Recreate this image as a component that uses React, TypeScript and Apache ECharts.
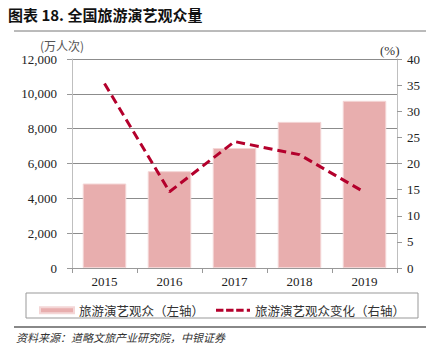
import React, { useEffect, useRef } from "react";
import * as echarts from "echarts";

const years = ["2015", "2016", "2017", "2018", "2019"];
const audience = [4850, 5560, 6890, 8390, 9600];
const growth = [35.3, 14.6, 24.2, 21.7, 14.5];

const serif = "'Liberation Serif', 'Times New Roman', serif";
const cjk = "'Noto Sans CJK SC', sans-serif";

export default function App() {
  const ref = useRef<HTMLDivElement>(null);
  useEffect(() => {
    document.body.style.margin = "0";
    const chart = echarts.init(ref.current!, null, { renderer: "svg" });
    chart.setOption({
      animation: false,
      backgroundColor: "#fff",
      grid: { left: 72, right: 39, top: 59, bottom: 87 },
      legend: {
        left: 34,
        top: 299,
        itemWidth: 34,
        itemHeight: 6,
        itemGap: 12,
        textStyle: { fontFamily: cjk, fontSize: 12.5, color: "#333" },
        data: [
          { name: "旅游演艺观众（左轴）", icon: "rect" },
          {
            name: "旅游演艺观众变化（右轴）",
            icon: "path://M0,0h7v3h-7z M9.5,0h7v3h-7z M19,0h7v3h-7z M29,0h3v3h-3z",
          },
        ],
      },
      xAxis: {
        type: "category",
        data: years,
        axisLine: { lineStyle: { color: "#999" } },
        axisTick: { show: true, length: 5, lineStyle: { color: "#999" } },
        axisLabel: { fontFamily: serif, fontSize: 13, color: "#222", margin: 7 },
      },
      yAxis: [
        {
          type: "value",
          min: 0,
          max: 12000,
          interval: 2000,
          axisLine: { show: true, lineStyle: { color: "#BFBFBF" } },
          axisTick: { show: true, length: 5, lineStyle: { color: "#999" } },
          splitLine: { lineStyle: { color: "#8C8C8C", width: 1 } },
          axisLabel: {
            fontFamily: serif,
            fontSize: 13,
            color: "#222",
            margin: 15,
            formatter: (v: number) => v.toLocaleString("en-US"),
          },
        },
        {
          type: "value",
          min: 0,
          max: 40,
          interval: 5,
          axisLine: { show: true, lineStyle: { color: "#BFBFBF" } },
          axisTick: { show: true, length: 5, lineStyle: { color: "#999" } },
          splitLine: { show: false },
          axisLabel: { fontFamily: serif, fontSize: 13, color: "#222", margin: 10 },
        },
      ],
      series: [
        {
          name: "旅游演艺观众（左轴）",
          type: "bar",
          data: audience,
          barWidth: "67%",
          itemStyle: { color: "#E8AEAE", borderColor: "#F4D6D6", borderWidth: 1 },
        },
        {
          name: "旅游演艺观众变化（右轴）",
          type: "line",
          yAxisIndex: 1,
          data: growth,
          symbol: "none",
          lineStyle: { color: "#B4002C", width: 3, type: [9, 5] },
          itemStyle: { color: "#B4002C" },
        },
      ],
      graphic: [
        {
          type: "text",
          left: 8,
          top: 7,
          style: {
            text: "图表 18. 全国旅游演艺观众量",
            font: `bold 15px ${cjk}`,
            fill: "#111",
          },
        },
        {
          type: "line",
          shape: { x1: 14, y1: 31, x2: 426, y2: 31 },
          style: { stroke: "#777", lineWidth: 1 },
        },
        {
          type: "text",
          left: 40,
          top: 39,
          style: { text: "(万人次)", font: `12px ${cjk}`, fill: "#555" },
        },
        {
          type: "text",
          left: 380,
          top: 44,
          style: { text: "(%)", font: `13px ${serif}`, fill: "#333" },
        },
        {
          type: "rect",
          shape: { x: 26, y: 293, width: 392, height: 25 },
          style: { fill: "none", stroke: "#999", lineWidth: 1 },
        },
        {
          type: "line",
          shape: { x1: 14, y1: 327, x2: 426, y2: 327 },
          style: { stroke: "#888", lineWidth: 2 },
        },
        {
          type: "text",
          left: 16,
          top: 331,
          style: {
            text: "资料来源：道略文旅产业研究院，中银证券",
            font: `italic 11px ${cjk}`,
            fill: "#333",
          },
        },
      ],
    });
    return () => chart.dispose();
  }, []);
  return <div ref={ref} style={{ width: 436, height: 355 }} />;
}
